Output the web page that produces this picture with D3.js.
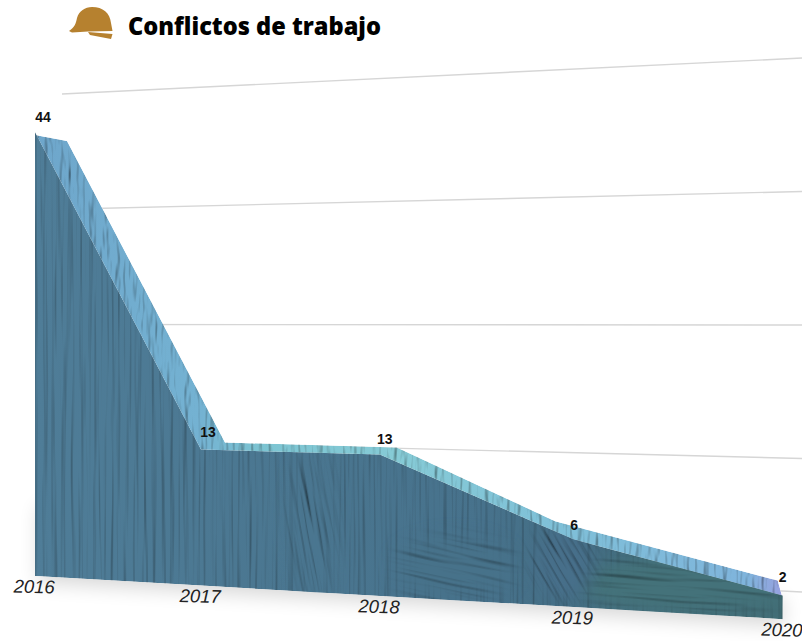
<!DOCTYPE html>
<html>
<head>
<meta charset="utf-8">
<script src="https://cdn.jsdelivr.net/npm/d3@7"></script>
<style>
  html, body { margin: 0; background: #fff; overflow: hidden; }
  svg { display: block; }
</style>
</head>
<body>
<script>
const years = ["2016", "2017", "2018", "2019", "2020"];
const conflicts = [44, 13, 13, 6, 2];
const gridTicks = [0, 10, 20, 30, 40];

const width = 802, height = 641;

// the whole chart is tilted, so x, base and height all go through the same divisor
const tScale = d3.scalePoint().domain(years).range([0, 1]);
const tStops = years.map(tScale);
const xBase = d3.scaleLinear().domain([0, 1]).range([35, 670]);
const yBase = d3.scaleLinear().domain([0, 1]).range([576, 530]);
const hScale = d3.scaleLinear().domain([0, 44]).range([0, 444]);
const persp = t => 1 - 0.144 * t;

// how far the back edge of the top band sits from the front edge
const backDx = d3.scaleLinear().domain(tStops).range([32, 24, 17, -18, -5]);
const backDy = d3.scaleLinear().domain(tStops).range([9, -7, -7, -18, -15]);
const labelDx = d3.scaleLinear().domain(tStops).range([8, 7, 5, 1, 0]);
const labelDy = d3.scaleLinear().domain(tStops).range([-10, -13, -11, -9, -14]);

const frontX = y => xBase(tScale(y)) / persp(tScale(y));
const baseY = y => yBase(tScale(y)) / persp(tScale(y));
const topY = (y, v) => baseY(y) - hScale(v) / persp(tScale(y));

// grid sits on its own plane, fanning out to the right
const gridLeft = d3.scaleLinear().domain([0, 40]).range([555, 94]);
const gridRight = d3.scaleLinear().domain([0, 40]).range([592, 58]);

const rows = years.map((y, i) => ({ year: y, value: conflicts[i] }));

const svg = d3.select("body").append("svg").attr("width", width).attr("height", height);
const defs = svg.append("defs");

function brush(id, freq, surface, seed, azimuth) {
  const f = defs.append("filter").attr("id", id)
    .attr("filterUnits", "userSpaceOnUse")
    .attr("x", -300).attr("y", -300).attr("width", 1500).attr("height", 1300)
    .attr("color-interpolation-filters", "sRGB");
  f.append("feTurbulence").attr("type", "fractalNoise").attr("baseFrequency", freq)
    .attr("numOctaves", 2).attr("seed", seed).attr("result", "n");
  f.append("feDiffuseLighting").attr("in", "n").attr("surfaceScale", surface)
    .attr("diffuseConstant", 1.15).attr("lighting-color", "#fff").attr("result", "l")
    .append("feDistantLight").attr("azimuth", azimuth).attr("elevation", 60);
  f.append("feBlend").attr("in", "SourceGraphic").attr("in2", "l").attr("mode", "multiply").attr("result", "b");
  f.append("feComposite").attr("in", "b").attr("in2", "SourceGraphic").attr("operator", "in");
}
brush("brushV", "0.22 0.006", 0.8, 4, 180);
brush("brushWave", "0.008 0.14", 1.8, 9, 90);
brush("brushDiag", "0.01 0.2", 1.6, 12, 90);
brush("brushTop", "0.16 0.03", 1.5, 7, 200);
defs.append("filter").attr("id", "soft").attr("x", "-20%").attr("y", "-20%").attr("width", "140%").attr("height", "140%")
  .append("feGaussianBlur").attr("stdDeviation", 10);
defs.append("filter").attr("id", "feather").attr("x", "-50%").attr("y", "-50%").attr("width", "200%").attr("height", "200%")
  .append("feGaussianBlur").attr("stdDeviation", 9);

const frontGrad = defs.append("linearGradient").attr("id", "frontFill")
  .attr("gradientUnits", "userSpaceOnUse").attr("x1", 35).attr("x2", 785).attr("y1", 0).attr("y2", 0);
[[0, "#4f7d98"], [0.35, "#4a7690"], [0.6, "#47728c"], [0.8, "#436d80"], [1, "#426e76"]]
  .forEach(s => frontGrad.append("stop").attr("offset", s[0]).attr("stop-color", s[1]));
const topGrad = defs.append("linearGradient").attr("id", "topFill")
  .attr("gradientUnits", "userSpaceOnUse").attr("x1", 35).attr("x2", 785).attr("y1", 0).attr("y2", 0);
[[0, "#6ea6cb"], [0.22, "#74b2d2"], [0.3, "#7cc4d2"], [0.48, "#86cbd6"], [0.7, "#7fc0d8"], [0.95, "#7fb4dc"], [1, "#9a9fe0"]]
  .forEach(s => topGrad.append("stop").attr("offset", s[0]).attr("stop-color", s[1]));

const area = d3.area()
  .x(d => frontX(d.year))
  .y0(d => baseY(d.year))
  .y1(d => topY(d.year, d.value));

defs.append("clipPath").attr("id", "frontClip").append("path").attr("d", area(rows));

// patches of different paint strokes, feathered so they melt into the face
const patchData = [
  { year: "2018", dx: 75, dy: -28, rx: 58, ry: 30, filter: "brushWave", rot: 12, fill: "#47728a" },
  { year: "2019", dx: 110, dy: -22, rx: 105, ry: 30, filter: "brushWave", rot: 4, fill: "#44727a" },
  { year: "2019", dx: -10, dy: -45, rx: 30, ry: 38, filter: "brushDiag", rot: 60, fill: "#476f8a" },
  { year: "2017", dx: 112, dy: -60, rx: 20, ry: 75, filter: "brushDiag", rot: 80, fill: "#4a7690" }
];
const patchMask = defs.selectAll("mask").data(patchData).join("mask")
  .attr("id", (d, i) => "patch" + i)
  .attr("maskUnits", "userSpaceOnUse")
  .attr("x", 0).attr("y", 0).attr("width", width).attr("height", height);
patchMask.append("ellipse")
  .attr("cx", d => frontX(d.year) + d.dx)
  .attr("cy", d => baseY(d.year) + d.dy)
  .attr("rx", d => d.rx).attr("ry", d => d.ry)
  .attr("fill", "#fff").attr("filter", "url(#feather)");

// shadow under the block
const polyLine = d3.line().x(d => d[0]).y(d => d[1]);
svg.append("path")
  .attr("d", polyLine([
    [frontX(years[0]) + 4, baseY(years[0]) - 70],
    [frontX(years[0]) + 4, baseY(years[0]) + 6],
    [frontX(years[4]), baseY(years[4]) + 6],
    [frontX(years[4]), baseY(years[4]) - 20]
  ]) + "Z")
  .attr("fill", "#000").attr("opacity", 0.16).attr("filter", "url(#soft)");

// grid
svg.append("g").selectAll("line").data(gridTicks).join("line")
  .attr("x1", 62).attr("x2", width)
  .attr("y1", d => gridLeft(d)).attr("y2", d => gridRight(d))
  .attr("stroke", "#d6d6d6").attr("stroke-width", 1.4);

// top band, runs a little under the front face so no seam shows
const backPts = rows.map(d => [frontX(d.year) + backDx(tScale(d.year)), topY(d.year, d.value) + backDy(tScale(d.year))]);
const frontPts = rows.map(d => [frontX(d.year), topY(d.year, d.value) + 3]);
svg.append("path")
  .attr("d", polyLine(frontPts.concat(backPts.slice().reverse())) + "Z")
  .attr("fill", "url(#topFill)").attr("filter", "url(#brushTop)");

// front face
svg.append("path").attr("d", area(rows)).attr("fill", "url(#frontFill)").attr("filter", "url(#brushV)");

const patches = svg.append("g").attr("clip-path", "url(#frontClip)");
patches.selectAll("g").data(patchData).join("g")
  .attr("mask", (d, i) => `url(#patch${i})`)
  .append("rect")
  .attr("x", -400).attr("y", -400).attr("width", 1000).attr("height", 1000)
  .attr("transform", d => `translate(${frontX(d.year) + d.dx},${baseY(d.year) + d.dy}) rotate(${d.rot})`)
  .attr("fill", d => d.fill)
  .attr("filter", d => `url(#${d.filter})`);

// value labels
svg.append("g").selectAll("text").data(rows).join("text")
  .attr("x", d => frontX(d.year) + labelDx(tScale(d.year)))
  .attr("y", d => topY(d.year, d.value) + labelDy(tScale(d.year)))
  .attr("text-anchor", "middle")
  .attr("font-family", "'Liberation Sans', Arial, sans-serif")
  .attr("font-weight", "bold").attr("font-size", 14).attr("fill", "#111")
  .text(d => d.value);

// year labels
svg.append("g").selectAll("text").data(rows).join("text")
  .attr("transform", d => `translate(${frontX(d.year) - 1},${baseY(d.year) + 17}) rotate(1.5)`)
  .attr("text-anchor", "middle")
  .attr("font-family", "'Liberation Sans', Arial, sans-serif")
  .attr("font-style", "italic").attr("font-size", 18.5).attr("fill", "#222")
  .text(d => d.year);

// helmet and title
const helmet = svg.append("g");
helmet.append("path")
  .attr("d", "M69 31 C75 27 76 23 77 18 C79 11 85 7 92 7 C103 7 110 13 111 23 L112.500 31 L88 31.500 L72 32.500 Z")
  .attr("fill", "#b6812f");
helmet.append("path")
  .attr("d", "M88 32 L112.500 34 L111 39 L90 35 Z")
  .attr("fill", "#b6812f");

svg.append("text")
  .attr("x", 128).attr("y", 35)
  .attr("font-family", "'Open Sans', 'Liberation Sans', sans-serif")
  .attr("font-weight", 800).attr("font-size", 25)
  .attr("textLength", 253).attr("lengthAdjust", "spacingAndGlyphs")
  .attr("fill", "#000")
  .text("Conflictos de trabajo");
</script>
</body>
</html>
